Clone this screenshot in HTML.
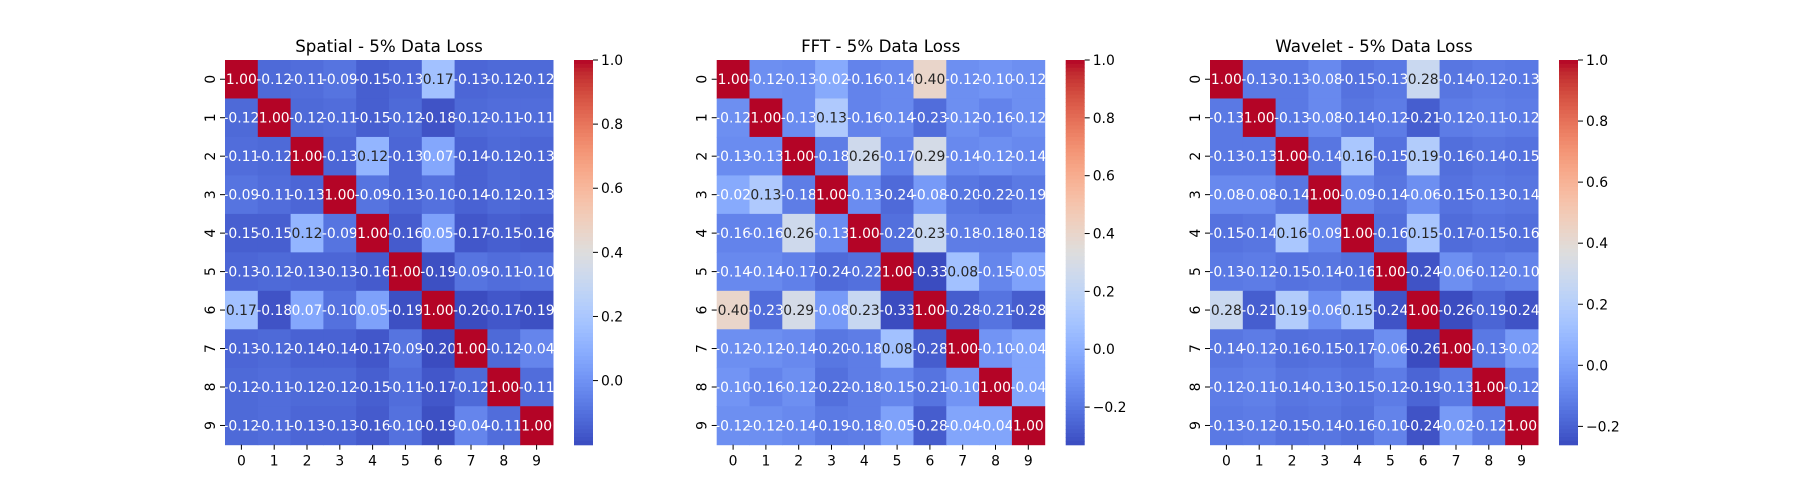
<!DOCTYPE html>
<html><head><meta charset="utf-8"><style>
html,body{margin:0;padding:0;background:#fff;}
svg{display:block;font-family:"DejaVu Sans","Liberation Sans",sans-serif;}
</style></head><body>
<svg id="fig" width="1800" height="500" xmlns="http://www.w3.org/2000/svg"></svg>
<script>
const titles = ["Spatial - 5% Data Loss", "FFT - 5% Data Loss", "Wavelet - 5% Data Loss"];
const categories = ["0","1","2","3","4","5","6","7","8","9"];
const spatial = [
[1,-0.12,-0.11,-0.09,-0.15,-0.13,0.17,-0.13,-0.12,-0.12],
[-0.12,1,-0.12,-0.11,-0.15,-0.12,-0.18,-0.12,-0.11,-0.11],
[-0.11,-0.12,1,-0.13,0.12,-0.13,0.07,-0.14,-0.12,-0.13],
[-0.09,-0.11,-0.13,1,-0.09,-0.13,-0.10,-0.14,-0.12,-0.13],
[-0.15,-0.15,0.12,-0.09,1,-0.16,0.05,-0.17,-0.15,-0.16],
[-0.13,-0.12,-0.13,-0.13,-0.16,1,-0.19,-0.09,-0.11,-0.10],
[0.17,-0.18,0.07,-0.10,0.05,-0.19,1,-0.20,-0.17,-0.19],
[-0.13,-0.12,-0.14,-0.14,-0.17,-0.09,-0.20,1,-0.12,-0.04],
[-0.12,-0.11,-0.12,-0.12,-0.15,-0.11,-0.17,-0.12,1,-0.11],
[-0.12,-0.11,-0.13,-0.13,-0.16,-0.10,-0.19,-0.04,-0.11,1]];
const fft = [
[1,-0.12,-0.13,-0.02,-0.16,-0.14,0.40,-0.12,-0.10,-0.12],
[-0.12,1,-0.13,0.13,-0.16,-0.14,-0.23,-0.12,-0.16,-0.12],
[-0.13,-0.13,1,-0.18,0.26,-0.17,0.29,-0.14,-0.12,-0.14],
[-0.02,0.13,-0.18,1,-0.13,-0.24,-0.08,-0.20,-0.22,-0.19],
[-0.16,-0.16,0.26,-0.13,1,-0.22,0.23,-0.18,-0.18,-0.18],
[-0.14,-0.14,-0.17,-0.24,-0.22,1,-0.33,0.08,-0.15,-0.05],
[0.40,-0.23,0.29,-0.08,0.23,-0.33,1,-0.28,-0.21,-0.28],
[-0.12,-0.12,-0.14,-0.20,-0.18,0.08,-0.28,1,-0.10,-0.04],
[-0.10,-0.16,-0.12,-0.22,-0.18,-0.15,-0.21,-0.10,1,-0.04],
[-0.12,-0.12,-0.14,-0.19,-0.18,-0.05,-0.28,-0.04,-0.04,1]];
const wavelet = [
[1,-0.13,-0.13,-0.08,-0.15,-0.13,0.28,-0.14,-0.12,-0.13],
[-0.13,1,-0.13,-0.08,-0.14,-0.12,-0.21,-0.12,-0.11,-0.12],
[-0.13,-0.13,1,-0.14,0.16,-0.15,0.19,-0.16,-0.14,-0.15],
[-0.08,-0.08,-0.14,1,-0.09,-0.14,-0.06,-0.15,-0.13,-0.14],
[-0.15,-0.14,0.16,-0.09,1,-0.16,0.15,-0.17,-0.15,-0.16],
[-0.13,-0.12,-0.15,-0.14,-0.16,1,-0.24,-0.06,-0.12,-0.10],
[0.28,-0.21,0.19,-0.06,0.15,-0.24,1,-0.26,-0.19,-0.24],
[-0.14,-0.12,-0.16,-0.15,-0.17,-0.06,-0.26,1,-0.13,-0.02],
[-0.12,-0.11,-0.14,-0.13,-0.15,-0.12,-0.19,-0.13,1,-0.12],
[-0.13,-0.12,-0.15,-0.14,-0.16,-0.10,-0.24,-0.02,-0.12,1]];
const cbTicks = [-0.2,0.0,0.2,0.4,0.6,0.8,1.0];

const CW=[[59,76,192],[68,90,204],[77,104,215],[87,117,225],[98,130,234],[108,142,241],[119,154,247],[130,165,251],[141,176,254],[152,185,255],[163,194,255],[174,201,253],[184,208,249],[194,213,244],[204,217,238],[213,219,230],[221,221,221],[229,216,209],[236,211,197],[241,204,185],[245,196,173],[247,187,160],[247,177,148],[247,166,135],[244,154,123],[241,141,111],[236,127,99],[229,112,88],[222,96,77],[213,80,66],[203,62,56],[192,40,47],[180,4,38]];
function cmap(t){t=Math.max(0,Math.min(1,t));const p=t*32,i=Math.min(31,Math.floor(p)),f=p-i;
 return CW[i].map((c,k)=>Math.round(c+(CW[i+1][k]-c)*f));}
function lum(c){const l=c.map(v=>{v/=255;return v<=0.03928?v/12.92:Math.pow((v+0.055)/1.055,2.4);});return 0.2126*l[0]+0.7152*l[1]+0.0722*l[2];}
const NS="http://www.w3.org/2000/svg";
const svg=document.getElementById('fig');
function el(tag,attrs,parent){const e=document.createElementNS(NS,tag);for(const k in attrs)e.setAttribute(k,attrs[k]);(parent||svg).appendChild(e);return e;}
const LEFTS=[225,716.7,1210], TOP=60, W=328, H=384.7;
const mats=[spatial,fft,wavelet], names=["spatial","fft","wavelet"];
mats.forEach((m,p)=>{
 const g=el('g',{});
 
 
 const x0=LEFTS[p], n=categories.length, cw=W/n, ch=H/n;
 let vmin=Infinity,vmax=-Infinity; m.forEach(r=>r.forEach(v=>{vmin=Math.min(vmin,v);vmax=Math.max(vmax,v);}));
 const xs=i=>x0+i*cw, ys=j=>TOP+j*ch;
 m.forEach((r,i)=>r.forEach((v,j)=>{
  const c=cmap((v-vmin)/(vmax-vmin));
  const rc=el('rect',{x:xs(j),y:ys(i),width:cw+0.5,height:ch+0.5,fill:`rgb(${c})`},g);
  
  
  const t=el('text',{x:xs(j)+cw/2,y:ys(i)+ch/2+5,'text-anchor':'middle','font-size':'13.9',fill:lum(c)>0.42?'#262626':'#fff'},g);
  t.textContent=v.toFixed(2);
  
  
 }));
 categories.forEach((lab,k)=>{
  const cx=xs(k)+cw/2, cyy=ys(k)+ch/2;
  el('line',{x1:cx,y1:TOP+H,x2:cx,y2:TOP+H+5,stroke:'#000','stroke-width':1},g);
  const tx=el('text',{x:cx,y:TOP+H+21,'text-anchor':'middle','font-size':'13.9',fill:'#000'},g);
  tx.textContent=lab;
  
  
  el('line',{x1:x0-5,y1:cyy,x2:x0,y2:cyy,stroke:'#000','stroke-width':1},g);
  const ty=el('text',{x:0,y:0,'text-anchor':'middle','font-size':'13.9',fill:'#000',transform:`translate(${x0-10},${cyy}) rotate(-90)`},g);
  ty.textContent=lab;
  
  
 });
 const tt=el('text',{x:x0+W/2,y:TOP-8,'text-anchor':'middle','font-size':'16.7',fill:'#000'},g);
 tt.textContent=titles[p];
 
 
 const cbx=x0+W+21, cbw=19;
 const cb=el('g',{},g);
 
 
 const steps=100;
 for(let s=0;s<steps;s++){const c=cmap(1-(s+0.5)/steps);el('rect',{x:cbx,y:TOP+s*H/steps,width:cbw,height:H/steps+0.6,fill:`rgb(${c})`},cb);}
 const cbY=v=>TOP+H-(v-vmin)/(vmax-vmin)*H;
 cbTicks.forEach(v=>{ if(v<vmin+1e-6||v>vmax+1e-9) return;
  const y=cbY(v);
  el('line',{x1:cbx+cbw,y1:y,x2:cbx+cbw+5,y2:y,stroke:'#000','stroke-width':1},cb);
  const lt=el('text',{x:cbx+cbw+8,y:y+5,'font-size':'13.9',fill:'#000'},cb);
  lt.textContent=v<0?'\u2212'+Math.abs(v).toFixed(1):v.toFixed(1);
  
  
 });
});
</script>
</body></html>
